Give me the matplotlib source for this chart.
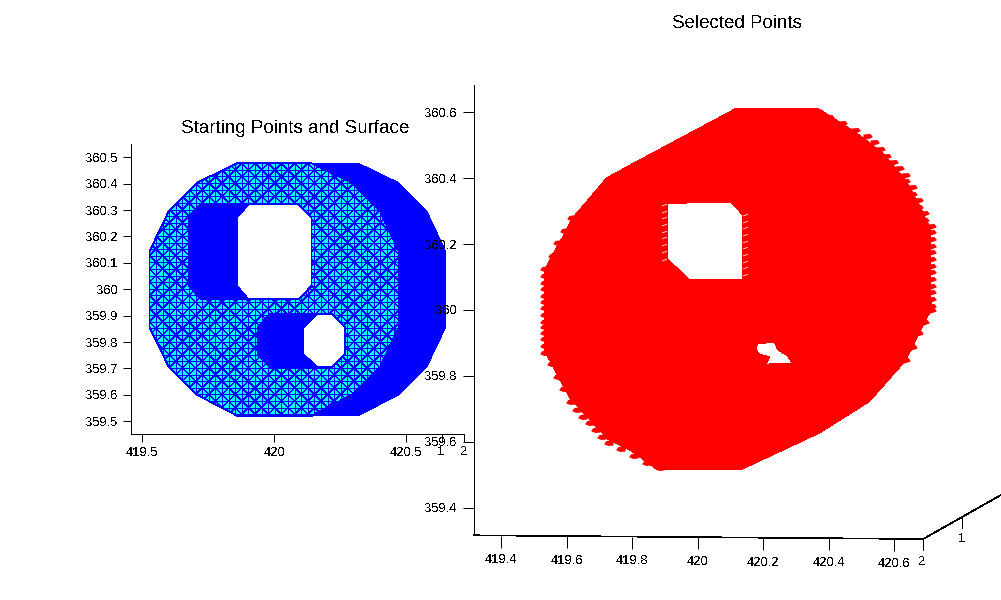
import numpy as np
import matplotlib
matplotlib.use('Agg')
import matplotlib.pyplot as plt
import matplotlib.tri as mtri
from matplotlib.collections import LineCollection
from matplotlib.patches import PathPatch
from matplotlib.path import Path

plt.rcParams['font.family'] = ['Liberation Sans', 'DejaVu Sans']
plt.rcParams['text.antialiased'] = False
plt.rcParams['lines.antialiased'] = False
plt.rcParams['patch.antialiased'] = False
plt.rcParams['axes.linewidth'] = 0.72

# left panel: blue surface
surf_x = [419.860, 420.318, 420.470, 420.577, 420.649, 420.649, 420.577, 420.470, 420.318, 419.860, 419.708, 419.601, 419.527, 419.527, 419.601, 419.708]
surf_y = [360.477, 360.477, 360.404, 360.297, 360.143, 359.856, 359.705, 359.600, 359.521, 359.521, 359.600, 359.705, 359.856, 360.143, 360.297, 360.404]
surf_hole1_x = [419.904, 420.093, 420.141, 420.141, 420.093, 419.904, 419.860, 419.860]
surf_hole1_y = [360.321, 360.321, 360.271, 360.013, 359.962, 359.962, 360.013, 360.271]
surf_hole2_x = [420.163, 420.218, 420.269, 420.269, 420.218, 420.163, 420.112, 420.112]
surf_hole2_y = [359.907, 359.907, 359.856, 359.755, 359.705, 359.705, 359.755, 359.856]

# left panel: cyan starting points
mesh_x = [419.860, 420.141, 420.293, 420.400, 420.472, 420.472, 420.400, 420.293, 420.141, 419.860, 419.708, 419.601, 419.527, 419.527, 419.601, 419.708]
mesh_y = surf_y
mesh_hole1_x = [419.722, 420.093, 420.141, 420.141, 420.093, 419.722, 419.678, 419.678]
mesh_hole1_y = surf_hole1_y
mesh_hole2_x = [419.986, 420.218, 420.269, 420.269, 420.218, 419.986, 419.936, 419.936]
mesh_hole2_y = surf_hole2_y
grid_x = [419.527, 419.552, 419.577, 419.602, 419.627, 419.652, 419.677, 419.702, 419.727, 419.752,
          419.777, 419.802, 419.827, 419.852, 419.877, 419.902, 419.927, 419.952, 419.977, 420.002,
          420.027, 420.052, 420.077, 420.102, 420.127, 420.152, 420.177, 420.202, 420.227, 420.252,
          420.277, 420.302, 420.327, 420.352, 420.377, 420.402, 420.427, 420.452, 420.477]
grid_y = [359.527, 359.552, 359.577, 359.602, 359.627, 359.652, 359.677, 359.702, 359.727, 359.752,
          359.777, 359.802, 359.827, 359.852, 359.877, 359.902, 359.927, 359.952, 359.977, 360.002,
          360.027, 360.052, 360.077, 360.102, 360.127, 360.152, 360.177, 360.202, 360.227, 360.252,
          360.277, 360.302, 360.327, 360.352, 360.377, 360.402, 360.427, 360.452, 360.477]

left_xticks = [419.5, 420, 420.5]
left_xlabels = ['419.5', '420', '420.5']
left_yticks = [360.5, 360.4, 360.3, 360.2, 360.1, 360, 359.9, 359.8, 359.7, 359.6, 359.5]
left_ylabels = ['360.5', '360.4', '360.3', '360.2', '360.1', '360', '359.9', '359.8', '359.7', '359.6', '359.5']

# right panel: selected points
red_x = [420.119, 420.366, 420.482, 420.561, 420.631, 420.674, 420.710, 420.713, 420.692, 420.652, 420.631, 420.524, 420.372, 420.131,
         419.878, 419.802, 419.726, 419.610, 419.573, 419.552, 419.534, 419.534, 419.555, 419.595, 419.616, 419.722, 419.793]
red_y = [360.612, 360.612, 360.539, 360.479, 360.400, 360.324, 360.248, 360.000, 359.961, 359.879, 359.842, 359.722, 359.627, 359.515,
         359.515, 359.570, 359.609, 359.733, 359.800, 359.842, 359.871, 360.124, 360.164, 360.233, 360.276, 360.400, 360.439]
red_hole1_x = [419.909, 420.103, 420.138, 420.138, 419.976, 419.909]
red_hole1_y = [360.324, 360.325, 360.288, 360.091, 360.091, 360.154]
red_hole2_x = [420.184, 420.235, 420.245, 420.275, 420.289, 420.209, 420.220, 420.189, 420.177]
red_hole2_y = [359.899, 359.901, 359.879, 359.861, 359.838, 359.836, 359.857, 359.867, 359.881]

left_tip_x = [419.600, 419.579, 419.560, 419.542, 419.520, 419.520, 419.520, 419.520, 419.520, 419.520, 419.520, 419.520,
              419.520, 419.520, 419.520, 419.520, 419.520, 419.520, 419.541, 419.559, 419.576, 419.598, 419.617, 419.635,
              419.655, 419.676, 419.693, 419.714, 419.752, 419.791, 419.830, 419.869]
left_tip_y = [360.278, 360.239, 360.202, 360.164, 360.124, 360.103, 360.083, 360.063, 360.042, 360.023, 360.005, 359.985,
              359.965, 359.949, 359.931, 359.911, 359.891, 359.871, 359.836, 359.798, 359.760, 359.722, 359.697, 359.677,
              359.657, 359.636, 359.616, 359.596, 359.578, 359.558, 359.537, 359.520]
right_tip_x = [420.377, 420.416, 420.455, 420.496, 420.533, 420.553, 420.573, 420.591, 420.612, 420.630, 420.648, 420.648,
               420.670, 420.670, 420.688, 420.688, 420.707, 420.707, 420.728, 420.728, 420.728, 420.728, 420.728, 420.728,
               420.728, 420.728, 420.728, 420.728, 420.728, 420.728, 420.728, 420.728, 420.707, 420.687, 420.669, 420.648]
right_tip_y = [360.604, 360.586, 360.566, 360.545, 360.527, 360.508, 360.487, 360.468, 360.449, 360.431, 360.409, 360.391,
               360.372, 360.352, 360.333, 360.313, 360.293, 360.273, 360.255, 360.237, 360.215, 360.195, 360.175, 360.155,
               360.134, 360.114, 360.094, 360.074, 360.054, 360.033, 360.013, 360.000, 359.965, 359.929, 359.889, 359.848]

# small white gaps along the edges of the square hole
gap_x = [420.146, 420.146, 420.146, 420.146, 420.146, 420.146, 420.146, 420.146, 420.146, 420.146,
         419.899, 419.899, 419.899, 419.899, 419.899, 419.899, 419.899, 419.899, 419.899]
gap_y = [360.288, 360.268, 360.248, 360.227, 360.207, 360.187, 360.167, 360.146, 360.126, 360.106,
         360.318, 360.298, 360.278, 360.258, 360.237, 360.217, 360.197, 360.177, 360.152]

right_xticks = [419.4, 419.6, 419.8, 420, 420.2, 420.4, 420.6]
right_xlabels = ['419.4', '419.6', '419.8', '420', '420.2', '420.4', '420.6']
right_yticks = [360.6, 360.4, 360.2, 360, 359.8, 359.6, 359.4]
right_ylabels = ['360.6', '360.4', '360.2', '360', '359.8', '359.6', '359.4']


def rings_path(*rings):
    verts, codes = [], []
    for n, (xs, ys) in enumerate(rings):
        pts = list(zip(xs, ys))
        if n > 0:
            pts = pts[::-1]
        verts += pts + [pts[0]]
        codes += [Path.MOVETO] + [Path.LINETO] * (len(pts) - 1) + [Path.CLOSEPOLY]
    return Path(verts, codes)


def axes_box(left, top, right, bottom):
    return [left / 1001, (600 - bottom) / 600, (right - left) / 1001, (bottom - top) / 600]


fig = plt.figure(figsize=(10.01, 6), dpi=100, facecolor='white')

# left panel
ax1 = fig.add_axes(axes_box(130.7, 144, 464.4, 434))
ax1.add_patch(PathPatch(rings_path((surf_x, surf_y), (surf_hole1_x, surf_hole1_y), (surf_hole2_x, surf_hole2_y)),
                        facecolor='#0000ff', edgecolor='none'))
mesh_patch = PathPatch(rings_path((mesh_x, mesh_y), (mesh_hole1_x, mesh_hole1_y), (mesh_hole2_x, mesh_hole2_y)),
                       facecolor='#00ffff', edgecolor='#0000ff', linewidth=0.6)
ax1.add_patch(mesh_patch)

gx, gy = np.meshgrid(grid_x, grid_y)
n = len(grid_x)
tris = []
for j in range(n - 1):
    for i in range(n - 1):
        a, b, c, d = j * n + i, j * n + i + 1, (j + 1) * n + i + 1, (j + 1) * n + i
        if (i + j) % 2 == 0:
            tris += [[a, b, c], [a, c, d]]
        else:
            tris += [[a, b, d], [b, c, d]]
tri = mtri.Triangulation(gx.ravel(), gy.ravel(), tris)
square_edges, diag_edges = [], []
for a, b in tri.edges:
    seg = [(tri.x[a], tri.y[a]), (tri.x[b], tri.y[b])]
    if tri.x[a] == tri.x[b] or tri.y[a] == tri.y[b]:
        square_edges.append(seg)
    else:
        diag_edges.append(seg)
# diagonals come out broken and lighter than the grid lines, as in the reference
for segs, lw in [(square_edges, 0.4), (diag_edges, 0.3)]:
    edges = LineCollection(segs, colors='#0000ff', linewidths=lw, antialiaseds=False)
    ax1.add_collection(edges)
    edges.set_clip_path(mesh_patch)

ax1.set_xlim(419.456, 420.720)
ax1.set_ylim(359.452, 360.550)
ax1.set_xticks(left_xticks)
ax1.set_xticklabels(left_xlabels)
ax1.set_yticks(left_yticks)
ax1.set_yticklabels(left_ylabels)
ax1.tick_params(length=5.8, width=0.72, pad=3.5, labelsize=9.4)
ax1.spines['top'].set_visible(False)
ax1.spines['right'].set_visible(False)
ax1.patch.set_visible(False)
ax1.set_title('Starting Points and Surface', x=0.494, pad=8, fontsize=13.5)

# right panel, nearly top-down view of a 3d plot
ax2 = fig.add_axes(axes_box(473.5, 85, 921, 535.3))
ax2.add_patch(PathPatch(rings_path((red_x, red_y), (red_hole1_x, red_hole1_y), (red_hole2_x, red_hole2_y)),
                        facecolor='#ff0000', edgecolor='none', clip_on=False))
left_tooth = Path([(0, 0), (2, 2.5), (9, 3.5), (9, -2), (4, -2.5), (0, -1), (0, 0)], closed=True)
right_tooth = Path([(0, 0), (-2, 2.5), (-9, 2), (-9, -3.5), (-4, -2.5), (0, -1), (0, 0)], closed=True)
ax2.plot(left_tip_x, left_tip_y, linestyle='none', marker=left_tooth, ms=13, mfc='#ff0000', mew=0, clip_on=False)
ax2.plot(right_tip_x, right_tip_y, linestyle='none', marker=right_tooth, ms=13, mfc='#ff0000', mew=0, clip_on=False)
gap = Path([(-3, -1), (3, 1), (3, 2), (-3, 0), (-3, -1)], closed=True)
ax2.plot(gap_x, gap_y, linestyle='none', marker=gap, ms=3.5, mfc='white', mew=0)

ax2.set_xlim(419.316, 420.682)
ax2.set_ylim(359.317, 360.682)
ax2.set_xticks(right_xticks)
ax2.set_xticklabels(right_xlabels)
ax2.set_yticks(right_yticks)
ax2.set_yticklabels(right_ylabels)
ax2.tick_params(axis='y', length=7.9, width=0.72, pad=3.9, labelsize=9.4)
ax2.tick_params(axis='x', length=8.6, width=0.72, pad=5, labelsize=9.4)
ax2.spines['top'].set_visible(False)
ax2.spines['right'].set_visible(False)
ax2.spines['bottom'].set_visible(False)
ax2.patch.set_visible(False)
ax2.set_title('Selected Points', x=0.589, pad=41, fontsize=13.5)

# the x axis runs slightly downhill in this view
drop = 3.7 / 450.3
ax2.plot([0, 1], [0, -drop], transform=ax2.transAxes, color='black', linewidth=0.5, clip_on=False)
for tick, value in zip(ax2.xaxis.get_major_ticks(), right_xticks):
    frac = (value - 419.316) / (420.682 - 419.316)
    tick.tick1line.set_ydata([-frac * drop])
    tick.label1.set_y(-frac * drop)

# depth axis furniture, in figure pixels
over = fig.add_axes([0, 0, 1, 1])
over.set_xlim(0, 1001)
over.set_ylim(600, 0)
over.axis('off')
over.plot([922.7, 1002], [539.3, 494.4], color='black', linewidth=0.5, clip_on=False)
for x0, y0, y1, label, lx, ly in [(922.7, 539.3, 550, '2', 922, 562), (962.3, 516.7, 528, '1', 962, 539),
                                  (464.4, 434, 442, '2', 464, 452), (441.5, 434, 442, '1', 441, 452)]:
    over.plot([x0, x0], [y0, y1], color='black', linewidth=0.72)
    over.text(lx, ly, label, ha='center', va='center', fontsize=9.4)
over.text(1004, 517, '0', ha='center', va='center', fontsize=9.4, clip_on=True)

fig.savefig('out.png', dpi=100)
